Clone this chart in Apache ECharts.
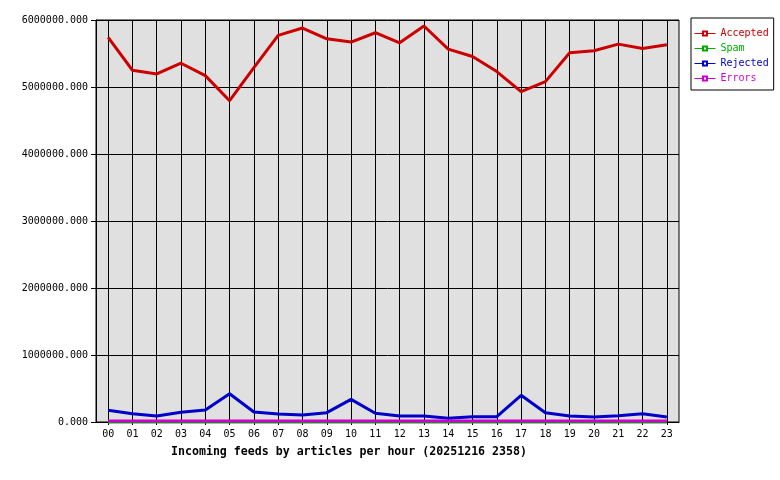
<!DOCTYPE html>
<html>
<head>
<meta charset="utf-8">
<script src="https://cdn.jsdelivr.net/npm/echarts@6/dist/echarts.min.js"></script>
<style>
html,body{margin:0;padding:0;background:#fff;}
#chart{width:780px;height:480px;}
</style>
</head>
<body>
<div id="chart"></div>
<script>
var hours = ['00','01','02','03','04','05','06','07','08','09','10','11','12','13','14','15','16','17','18','19','20','21','22','23'];
var accepted = [5740000,5250000,5195000,5355000,5170000,4795000,5290000,5770000,5880000,5720000,5670000,5810000,5660000,5910000,5565000,5455000,5230000,4930000,5080000,5510000,5540000,5640000,5575000,5630000];
var spam = [0,0,0,0,0,0,0,0,0,0,0,0,0,0,0,0,0,0,0,0,0,0,0,0];
var rejected = [175000,124000,90000,145000,179000,422000,149000,119000,104000,139000,338000,130000,90000,90000,55000,80000,80000,398000,139000,90000,75000,95000,124000,75000];
var errors = [15000,15000,15000,15000,15000,15000,15000,15000,15000,15000,15000,15000,15000,15000,15000,15000,15000,15000,15000,15000,15000,15000,15000,15000];
var yTicks = {min:0, max:6000000, interval:1000000};
var titleText = 'Incoming feeds by articles per hour (20251216 2358)';

var FONT = '"DejaVu Sans Mono", "Liberation Mono", monospace';
var C_ACC = '#cc0000', C_SPAM = '#00aa00', C_REJ = '#0000cc', C_ERR = '#cc00cc';

var chart = echarts.init(document.getElementById('chart'), null, {renderer:'canvas'});
function mk(name, data, color){
  return {
    name:name, type:'line', data:data, symbol:'emptyRect', symbolSize:4, showSymbol:false,
    lineStyle:{color:color, width:3}, itemStyle:{color:color},
    emphasis:{disabled:true}, silent:true, clip:false
  };
}
chart.setOption({
  animation:false,
  title:{
    text:titleText, left:171, top:446, padding:0,
    textStyle:{fontFamily:FONT, fontWeight:'bold', fontSize:11.6, color:'#000'}
  },
  legend:{
    orient:'vertical', left:691, top:18,
    padding:[8,5,4,3], itemGap:0, itemWidth:21, itemHeight:5,
    itemTextGap:2,
    borderColor:'#000', borderWidth:1, backgroundColor:'#fff',
    lineStyle:{width:1},
    textStyle:{fontFamily:FONT, fontSize:10, lineHeight:15},
    data:[
      {name:'Accepted', textStyle:{color:C_ACC}},
      {name:'Spam', textStyle:{color:C_SPAM}},
      {name:'Rejected', textStyle:{color:C_REJ}},
      {name:'Errors', textStyle:{color:C_ERR}}
    ]
  },
  grid:{
    left:96, top:20, width:583, height:402,
    show:true, backgroundColor:'#e0e0e0', borderColor:'#000', borderWidth:1
  },
  xAxis:{
    type:'category', data:hours, boundaryGap:true,
    axisLine:{lineStyle:{color:'#000', width:1}},
    axisTick:{show:true, alignWithLabel:true, length:3, lineStyle:{color:'#000'}},
    splitLine:{show:true, alignWithLabel:true, lineStyle:{color:'#000', width:1}},
    axisLabel:{fontFamily:FONT, fontSize:10, color:'#000', margin:7, interval:0}
  },
  yAxis:{
    type:'value', min:yTicks.min, max:yTicks.max, interval:yTicks.interval,
    axisLine:{show:true, lineStyle:{color:'#000'}},
    axisTick:{show:true, length:5, lineStyle:{color:'#000'}},
    splitLine:{show:true, lineStyle:{color:'#000', width:1}},
    axisLabel:{fontFamily:FONT, fontSize:10, color:'#000', margin:8,
      formatter:function(v){return v.toFixed(3);}}
  },
  series:[
    mk('Accepted', accepted, C_ACC),
    mk('Spam', spam, C_SPAM),
    mk('Rejected', rejected, C_REJ),
    mk('Errors', errors, C_ERR)
  ]
});
</script>
</body>
</html>
